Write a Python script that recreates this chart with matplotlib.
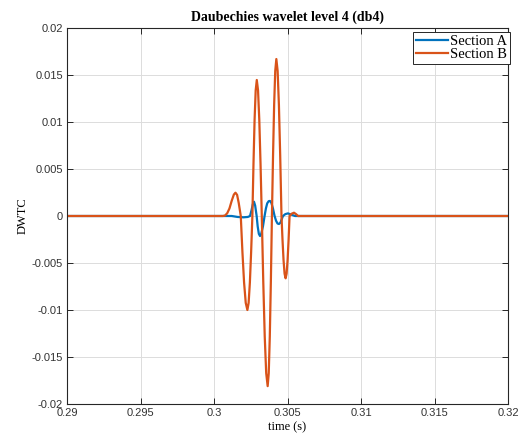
import matplotlib
matplotlib.use('Agg')
import matplotlib.pyplot as plt
from matplotlib.ticker import FuncFormatter

# Section A (blue) - time (s) / DWTC
t_a = [0.29, 0.3012, 0.3016, 0.3020, 0.3023, 0.30245, 0.30255, 0.30264, 0.30272,
       0.30280, 0.30290, 0.30297, 0.30305, 0.30313, 0.30321, 0.30333, 0.30344,
       0.30353, 0.30362, 0.30372, 0.30381, 0.30390, 0.30401, 0.30412, 0.30422,
       0.30432, 0.30442, 0.30452, 0.30469, 0.30485, 0.30503, 0.30525, 0.30551, 0.32]
v_a = [0.0, 0.0, -0.0001, -0.00014, -0.0001, 0.0, 0.0006, 0.00125, 0.00152,
       0.0011, 0.0, -0.0011, -0.0019, -0.00213, -0.0019, -0.0011, 0.0,
       0.0008, 0.00135, 0.00158, 0.0016, 0.0014, 0.0008, 0.0, -0.0005,
       -0.0008, -0.00085, -0.0007, 0.0, 0.0002, 0.00028, 0.00015, 0.0, 0.0]

# Section B (orange)
t_b = [0.29, 0.30060, 0.30075, 0.30090, 0.30105, 0.30120, 0.30135, 0.30146, 0.30157,
       0.30168, 0.30176, 0.30182, 0.301933, 0.302045, 0.302158, 0.30227, 0.302355,
       0.30244, 0.302525, 0.30261, 0.302685, 0.30276, 0.302835, 0.30291, 0.302995,
       0.30308, 0.303165, 0.30325, 0.30335, 0.30345, 0.30355, 0.30365, 0.303723,
       0.303795, 0.303868, 0.30394, 0.304015, 0.30409, 0.304165, 0.30424, 0.304328,
       0.304415, 0.304503, 0.30459, 0.30466, 0.30473, 0.3048, 0.30487, 0.304938,
       0.305005, 0.305073, 0.30514, 0.30529, 0.30544, 0.30558, 0.30572, 0.32]
v_b = [0.0, 0.0, 0.00005, 0.0003, 0.0008, 0.0016, 0.00228, 0.00248, 0.00225,
       0.0014, 0.0006, 0.0, -0.00383, -0.00707, -0.00924, -0.0100, -0.00924,
       -0.00707, -0.00383, 0.0, 0.00554, 0.01023, 0.01337, 0.01447, 0.01337,
       0.01023, 0.00554, 0.0, -0.00693, -0.0128, -0.01672, -0.0181, -0.01672,
       -0.0128, -0.00693, 0.0, 0.00639, 0.01181, 0.01543, 0.0167, 0.01543,
       0.01181, 0.00639, 0.0, -0.00254, -0.00469, -0.00613, -0.00663, -0.00613,
       -0.00469, -0.00254, 0.0, 0.00025, 0.00035, 0.0002, 0.0, 0.0]

x_ticks = [0.29, 0.295, 0.3, 0.305, 0.31, 0.315, 0.32]
y_ticks = [-0.02, -0.015, -0.01, -0.005, 0, 0.005, 0.01, 0.015, 0.02]

serif = 'Liberation Serif'
sans = 'Liberation Sans'

fig = plt.figure(figsize=(5.26, 4.41), dpi=100)
ax = fig.add_axes([0.1274, 0.0839, 0.8384, 0.8526])

ax.plot(t_a, v_a, color='#0072BD', lw=1.6, label='Section A')
ax.plot(t_b, v_b, color='#D95319', lw=1.6, label='Section B')

ax.set_xlim(0.29, 0.32)
ax.set_ylim(-0.02, 0.02)
ax.set_xticks(x_ticks)
ax.set_yticks(y_ticks)
fmt = FuncFormatter(lambda v, p: '%g' % round(v, 6))
ax.xaxis.set_major_formatter(fmt)
ax.yaxis.set_major_formatter(fmt)

ax.grid(True, color='#dcdcdc', lw=0.7)
ax.set_axisbelow(True)
ax.tick_params(direction='in', length=4, width=0.7, top=True, right=True,
               labelsize=8, colors='#262626', labelcolor='#333333', pad=3)
for lbl in ax.get_xticklabels() + ax.get_yticklabels():
    lbl.set_fontfamily(sans)
for s in ax.spines.values():
    s.set_color('#262626')
    s.set_linewidth(0.8)

ax.set_title('Daubechies wavelet level 4 (db4)', fontfamily=serif,
             fontweight='bold', fontsize=10, pad=5)
ax.set_xlabel('time (s)', fontfamily=serif, fontsize=9, labelpad=2)
ax.set_ylabel('DWTC', fontfamily=serif, fontsize=9, labelpad=2)

leg = ax.legend(loc='upper right', bbox_to_anchor=(1.005, 0.99),
                prop={'family': serif, 'size': 10.5},
                fancybox=False, edgecolor='#262626', framealpha=1,
                borderaxespad=0.0, handlelength=2.2, handletextpad=0.15,
                labelspacing=0.0, borderpad=0.2)
leg.get_frame().set_linewidth(0.7)

fig.savefig('out.png', dpi=100)
